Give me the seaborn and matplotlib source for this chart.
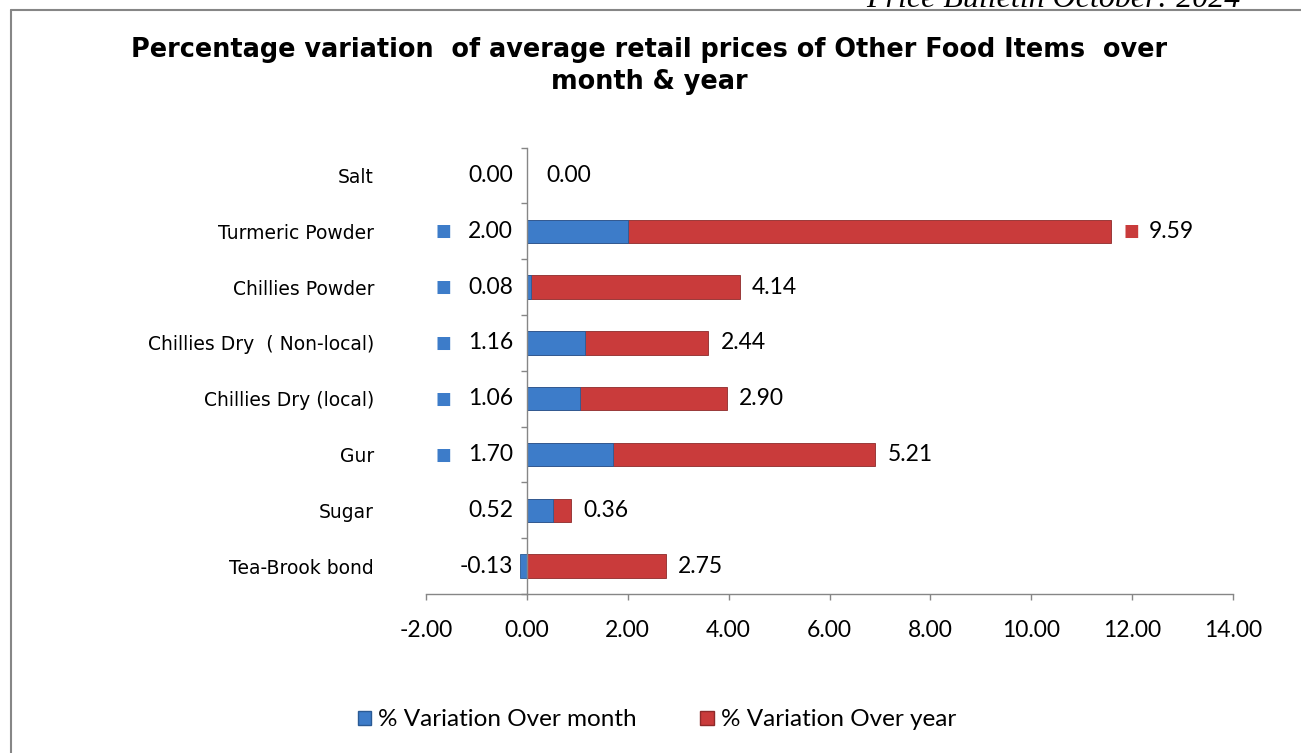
import numpy as np
import pandas as pd
import seaborn as sns
import matplotlib.pyplot as plt
from matplotlib.lines import Line2D
from matplotlib.patches import Patch
from matplotlib.ticker import FixedLocator

categories = ["Salt", "Turmeric Powder", "Chillies Powder", "Chillies Dry  ( Non-local)",
              "Chillies Dry (local)", "Gur", "Sugar", "Tea-Brook bond"]
month = [0.00, 2.00, 0.08, 1.16, 1.06, 1.70, 0.52, -0.13]
year = [0.00, 9.59, 4.14, 2.44, 2.90, 5.21, 0.36, 2.75]
month_key = [False, True, True, True, True, True, False, False]
year_key = [False, True, False, False, False, False, False, False]
xticks = [-2, 0, 2, 4, 6, 8, 10, 12, 14]
series_names = ["% Variation Over month", "% Variation Over year"]

BLUE = "#3d7cc9"
BLUE_D = "#2a5a94"
RED = "#c93b3b"
RED_D = "#8e2a2a"
GRAY = "#868686"

sns.set_theme(style="white")
plt.rcParams["font.family"] = ["DejaVu Sans"]
plt.rcParams["text.color"] = "black"
plt.rcParams["xtick.color"] = "black"
plt.rcParams["ytick.color"] = "black"
NUMFONT = "Lato"

df = pd.DataFrame({"cat": categories, "month": month, "year": year})
df["year_end"] = np.maximum(df["month"], 0) + df["year"]

W, H = 1301, 753
fig = plt.figure(figsize=(W / 100, H / 100), dpi=100)
ax = fig.add_axes([426 / W, (H - 594) / H, (1233 - 426) / W, (594 - 147.6) / H])

sns.barplot(data=df, y="cat", x="year_end", orient="h", color=RED, saturation=1,
            width=0.42, edgecolor=RED_D, linewidth=0.6, ax=ax, errorbar=None)
sns.barplot(data=df, y="cat", x="month", orient="h", color=BLUE, saturation=1,
            width=0.42, edgecolor=BLUE_D, linewidth=0.6, ax=ax, errorbar=None)

ax.set_xlim(-2, 14)
ax.set_ylim(7.5, -0.5)
ax.set_xlabel("")
ax.set_ylabel("")
ax.set_xticks(xticks)
ax.set_xticklabels([f"{v:.2f}" for v in xticks], fontfamily=NUMFONT, fontsize=16.5)
ax.tick_params(axis="x", direction="out", length=4, width=1, color=GRAY, pad=15, bottom=True,
               labelcolor="black")

for s in ["top", "right"]:
    ax.spines[s].set_visible(False)
ax.spines["bottom"].set_color(GRAY)
ax.spines["left"].set_color(GRAY)
ax.spines["left"].set_position(("data", 0))
ax.spines["bottom"].set_linewidth(1)
ax.spines["left"].set_linewidth(1)

ax.yaxis.set_minor_locator(FixedLocator(np.arange(-0.5, len(categories), 1)))
ax.tick_params(axis="y", which="major", length=0, pad=110, labelsize=13.5, left=True,
               labelcolor="black")
ax.tick_params(axis="y", which="minor", length=4, width=1, color=GRAY, left=True)

# data labels
for i, (m, y, end) in enumerate(zip(df["month"], df["year"], df["year_end"])):
    ax.annotate(f"{m:.2f}", xy=(0, i), xytext=(-10, 0), textcoords="offset points",
                ha="right", va="center", fontsize=16.5, fontfamily=NUMFONT, color="black")
    if month_key[i]:
        ax.annotate("■", xy=(0, i), xytext=(-60, 0), textcoords="offset points",
                    ha="center", va="center", fontsize=12, color=BLUE)
    if year_key[i]:
        ax.annotate("■", xy=(end, i), xytext=(14, 0), textcoords="offset points",
                    ha="center", va="center", fontsize=12, color=RED)
        off = 27
    else:
        off = 9 if end != 0 else 14
    ax.annotate(f"{y:.2f}", xy=(end, i), xytext=(off, 0), textcoords="offset points",
                ha="left", va="center", fontsize=16.5, fontfamily=NUMFONT, color="black")

# title
fig.text(649 / W, 1 - 37 / H,
         "Percentage variation  of average retail prices of Other Food Items  over\nmonth & year",
         ha="center", va="top", multialignment="center", fontsize=18.4, fontweight="bold",
         linespacing=1.3, color="black")

# header
fig.text(1240 / W, 1 - 7 / H, "Price Bulletin October: 2024", ha="right", va="baseline",
         fontfamily="Liberation Serif", style="italic", fontsize=23, color="black")
fig.add_artist(Line2D([11 / W, 1], [1 - 10 / H, 1 - 10 / H], transform=fig.transFigure,
                      color=GRAY, lw=1.5))
fig.add_artist(Line2D([11 / W, 11 / W], [0, 1 - 10 / H], transform=fig.transFigure,
                      color=GRAY, lw=1.5))

# legend
handles = [Patch(facecolor=BLUE, edgecolor=BLUE_D), Patch(facecolor=RED, edgecolor=RED_D)]
fig.legend(handles, series_names, loc="center", bbox_to_anchor=(657 / W, 1 - 720 / H),
           ncol=2, frameon=False, prop={"family": NUMFONT, "size": 17.5},
           handlelength=0.55, handleheight=0.55, handletextpad=0.3, columnspacing=2.6)

fig.savefig("out.png", dpi=100, facecolor="white")
